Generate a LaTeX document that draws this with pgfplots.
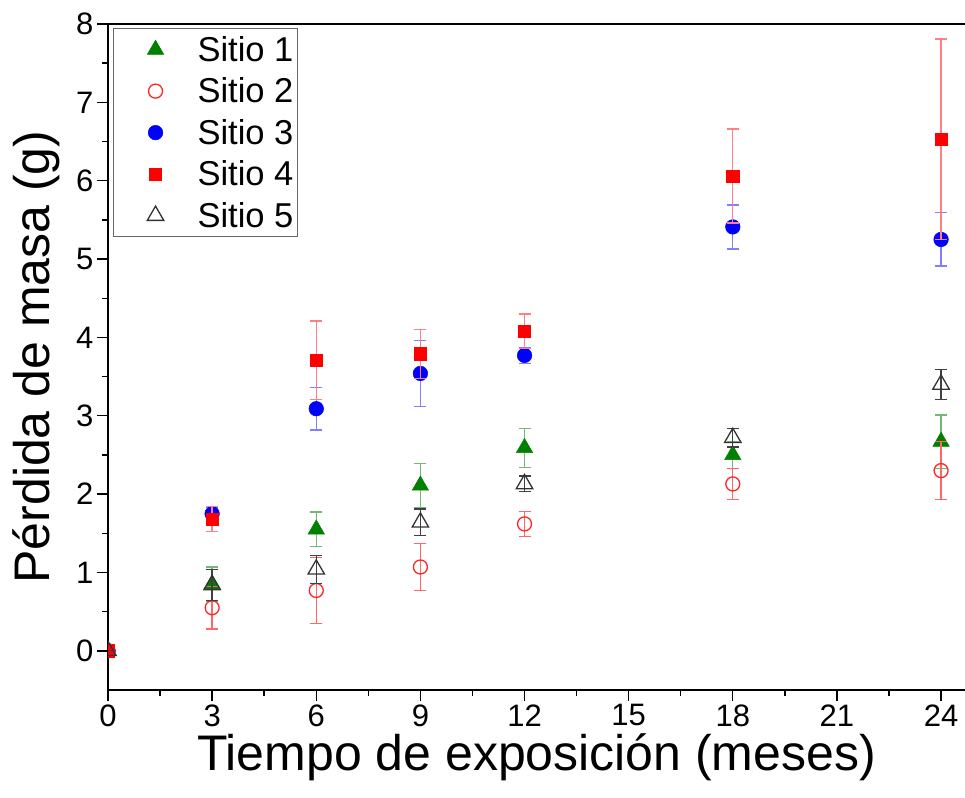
\documentclass[border=0pt]{standalone}
\usepackage{pgfplots}
\pgfplotsset{compat=1.18}
\usepackage{fontspec}
\setmainfont{Liberation Sans}
\definecolor{sgreen}{RGB}{0,128,0}
\definecolor{sred}{RGB}{255,0,0}
\definecolor{sblue}{RGB}{0,0,255}
\pgfplotsset{
  limg/.style={legend image code/.code={\path[draw=none,fill=none] (0pt,-6pt) rectangle (80pt,6pt); \draw[mark repeat=2,mark phase=2,##1] plot coordinates {(0pt,0pt) (40pt,0pt) (80pt,0pt)};}},
}
\begin{document}
\begin{tikzpicture}[x=1pt,y=1pt]
\begin{axis}[
  name=ax,
  at={(108pt,107pt)}, anchor=south west,
  scale only axis, width=857pt, height=666pt,
  xmin=0, xmax=24.69, ymin=-0.5, ymax=8,
  axis lines*=left,
  axis line style={line width=2pt},
  xtick={0,3,...,24}, ytick={0,1,...,8},
  minor x tick num=1, minor y tick num=1,
  tick align=outside,
  major tick length=11pt, minor tick length=6pt,
  every tick/.style={line width=1.4pt, black},
  tick label style={font=\fontsize{31}{34}\selectfont},
  /pgf/number format/assume math mode=true,
  xlabel={Tiempo de exposición (meses)},
  ylabel={Pérdida de masa (g)},
  ylabel shift=9pt,
  label style={font=\fontsize{50}{56}\selectfont},
  clip marker paths=true,
  legend style={at={(0.006,0.994)}, anchor=north west, draw=black!60, line width=0.8pt,
    font=\fontsize{34.5}{38}\selectfont, row sep=11pt, inner xsep=2pt, inner ysep=6pt,
    cells={anchor=west}, fill=white},
]
\addplot[only marks, limg, mark=triangle*, mark size=9.5pt, mark options={fill=sgreen, draw=sgreen, line width=0.5pt},
  error bars/.cd, y dir=both, y explicit,
  error bar style={sgreen!55, line width=1.3pt},
  error mark options={sgreen!55, line width=1.3pt, mark size=6pt, rotate=90}]
  table[x=x,y=y,y error=e] {
x y e
0 0 0
3 0.85 0.22
6 1.55 0.22
9 2.11 0.28
12 2.59 0.25
18 2.50 0.17
24 2.67 0.34
};
\addlegendentry{Sitio 1}
\addplot[only marks, limg, mark=o, mark size=7pt, mark options={draw=sred!85, line width=1.3pt, fill=none},
  error bars/.cd, y dir=both, y explicit,
  error bar style={sred!60, line width=1.3pt},
  error mark options={sred!60, line width=1.3pt, mark size=6pt, rotate=90}]
  table[x=x,y=y,y error=e] {
x y e
0 0 0
3 0.55 0.27
6 0.77 0.42
9 1.07 0.30
12 1.62 0.16
18 2.13 0.20
24 2.30 0.37
};
\addlegendentry{Sitio 2}
\addplot[only marks, limg, mark=*, mark size=7.3pt, mark options={fill=sblue, draw=sblue, line width=0.5pt},
  error bars/.cd, y dir=both, y explicit,
  error bar style={sblue!50, line width=1.3pt},
  error mark options={sblue!50, line width=1.3pt, mark size=6pt, rotate=90}]
  table[x=x,y=y,y error=e] {
x y e
0 0 0
3 1.75 0.08
6 3.09 0.27
9 3.54 0.42
12 3.77 0.10
18 5.41 0.28
24 5.25 0.34
};
\addlegendentry{Sitio 3}
\addplot[only marks, limg, mark=square*, mark size=6.2pt, mark options={fill=sred, draw=sred, line width=0.5pt},
  error bars/.cd, y dir=both, y explicit,
  error bar style={sred!50, line width=1.3pt},
  error mark options={sred!50, line width=1.3pt, mark size=6pt, rotate=90}]
  table[x=x,y=y,y error=e] {
x y e
0 0 0
3 1.68 0.16
6 3.71 0.50
9 3.79 0.31
12 4.08 0.22
18 6.06 0.60
24 6.53 1.28
};
\addlegendentry{Sitio 4}
\addplot[only marks, limg, mark=triangle, mark size=9.5pt, mark options={draw=black!80, line width=1.3pt, fill=none},
  error bars/.cd, y dir=both, y explicit,
  error bar style={black!75, line width=1.3pt},
  error mark options={black!75, line width=1.3pt, mark size=6pt, rotate=90}]
  table[x=x,y=y,y error=e] {
x y e
0 0 0
3 0.84 0.20
6 1.04 0.18
9 1.64 0.17
12 2.13 0.10
18 2.72 0.12
24 3.40 0.19
};
\addlegendentry{Sitio 5}
\end{axis}
\draw[line width=2pt] (ax.north west) -- (ax.north east);
\pgfresetboundingbox
\path (0,0) rectangle (965,797);
\end{tikzpicture}
\end{document}
